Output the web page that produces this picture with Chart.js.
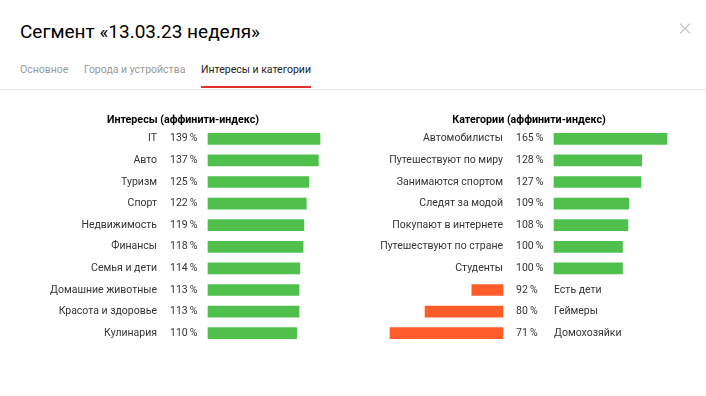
<!DOCTYPE html>
<html>
<head>
<meta charset="utf-8">
<script src="https://cdn.jsdelivr.net/npm/chart.js@4"></script>
<style>
  body { margin: 0; width: 706px; height: 396px; background: #fff; font-family: Roboto, "Noto Sans", sans-serif; position: relative; overflow: hidden; }
  h1 { position: absolute; left: 20px; top: 20px; margin: 0; font-size: 19px; font-weight: 400; color: #000; }
  .close { position: absolute; left: 679px; top: 23px; width: 12px; height: 12px; }
  .close:before, .close:after { content: ''; position: absolute; left: -1px; top: 5px; width: 14px; height: 1px; background: #bbb; }
  .close:before { transform: rotate(45deg); }
  .close:after { transform: rotate(-45deg); }
  .tab { position: absolute; top: 63px; font-size: 10.5px; color: #999; white-space: nowrap; }
  .tab.active { color: #222; }
  .underline { position: absolute; left: 201px; top: 86px; width: 110px; height: 2px; background: #e0302a; }
  .rule { position: absolute; left: 0; top: 89px; width: 706px; height: 1px; background: #eaeaea; }
  canvas { position: absolute; top: 100px; }
</style>
</head>
<body>
<h1>Сегмент «13.03.23 неделя»</h1>
<div class="close"></div>
<span class="tab" style="left:20px">Основное</span>
<span class="tab" style="left:84px">Города и устройства</span>
<span class="tab active" style="left:201px">Интересы и категории</span>
<div class="underline"></div>
<div class="rule"></div>
<canvas id="interests" width="353" height="260" style="left:0"></canvas>
<canvas id="categories" width="353" height="260" style="left:353px"></canvas>
<script>
const interestTitle = 'Интересы (аффинити-индекс)';
const interestLabels = ['IT', 'Авто', 'Туризм', 'Спорт', 'Недвижимость', 'Финансы', 'Семья и дети', 'Домашние животные', 'Красота и здоровье', 'Кулинария'];
const interestValues = [139, 137, 125, 122, 119, 118, 114, 113, 113, 110];

const categoryTitle = 'Категории (аффинити-индекс)';
const categoryLabels = ['Автомобилисты', 'Путешествуют по миру', 'Занимаются спортом', 'Следят за модой', 'Покупают в интернете', 'Путешествуют по стране', 'Студенты', 'Есть дети', 'Геймеры', 'Домохозяйки'];
const categoryValues = [165, 128, 127, 109, 108, 100, 100, 92, 80, 71];

const GREEN = '#4fc04b';
const ORANGE = '#ff5c2b';
const TEXT = '#333';
const FONT = 'Roboto, "Noto Sans", sans-serif';

// text columns sit at fixed offsets left of the bar area
const labelGap = 51;
const pctGap = 38;

function pct(v) {
  return v + '\u2009%';
}

// moves the hidden "below 100" axis so it ends just left of the labels column
const deficitAxisPlugin = {
  id: 'deficitAxis',
  afterLayout(chart) {
    const s = chart.scales.xd;
    if (!s) return;
    const area = chart.chartArea;
    s.right = area.left - labelGap;
    s.left = s.right - (area.right - area.left);
    s.width = s.right - s.left;
    s.configure();
  }
};

function makeTextPlugin(title, labels, values) {
  return {
    id: 'rowText',
    afterDraw(chart) {
      const ctx = chart.ctx;
      const area = chart.chartArea;
      const y = chart.scales.y;
      ctx.save();
      ctx.textBaseline = 'middle';
      ctx.fillStyle = '#000';
      ctx.font = 'bold 10.7px ' + FONT;
      ctx.textAlign = 'center';
      ctx.fillText(title, area.left - 25, y.getPixelForValue(0) - 18);
      ctx.font = '10.5px ' + FONT;
      ctx.fillStyle = TEXT;
      labels.forEach((name, i) => {
        const py = y.getPixelForValue(i);
        ctx.textAlign = 'left';
        ctx.fillText(pct(values[i]), area.left - pctGap, py);
        if (values[i] >= 100) {
          ctx.textAlign = 'right';
          ctx.fillText(name, area.left - labelGap, py);
        } else {
          ctx.textAlign = 'left';
          ctx.fillText(name, area.left, py);
        }
      });
      ctx.restore();
    }
  };
}

function makeChart(id, title, labels, values, padLeft, padRight) {
  const above = values.map(v => (v >= 100 ? v : null));
  const below = values.map(v => (v < 100 ? 100 - v : null));
  const hasBelow = below.some(v => v !== null);
  const datasets = [
    { data: above, backgroundColor: GREEN, xAxisID: 'x', barThickness: 11, clip: false }
  ];
  const scales = {
    x: { min: 0, max: Math.max(...values), display: false },
    y: { display: false }
  };
  if (hasBelow) {
    datasets.push({ data: below, backgroundColor: ORANGE, xAxisID: 'xd', barThickness: 11, clip: false });
    scales.xd = { min: 0, max: Math.max(...below.filter(v => v !== null)), reverse: true, display: false };
  }
  return new Chart(document.getElementById(id), {
    type: 'bar',
    data: { labels, datasets },
    options: {
      indexAxis: 'y',
      responsive: false,
      animation: false,
      devicePixelRatio: 1,
      layout: { padding: { left: padLeft, right: padRight, top: 28, bottom: 16 } },
      plugins: { legend: { display: false }, tooltip: { enabled: false } },
      datasets: { bar: { grouped: false } },
      scales
    },
    plugins: [deficitAxisPlugin, makeTextPlugin(title, labels, values)]
  });
}

makeChart('interests', interestTitle, interestLabels, interestValues, 208, 33);
makeChart('categories', categoryTitle, categoryLabels, categoryValues, 201, 39);
</script>
</body>
</html>
